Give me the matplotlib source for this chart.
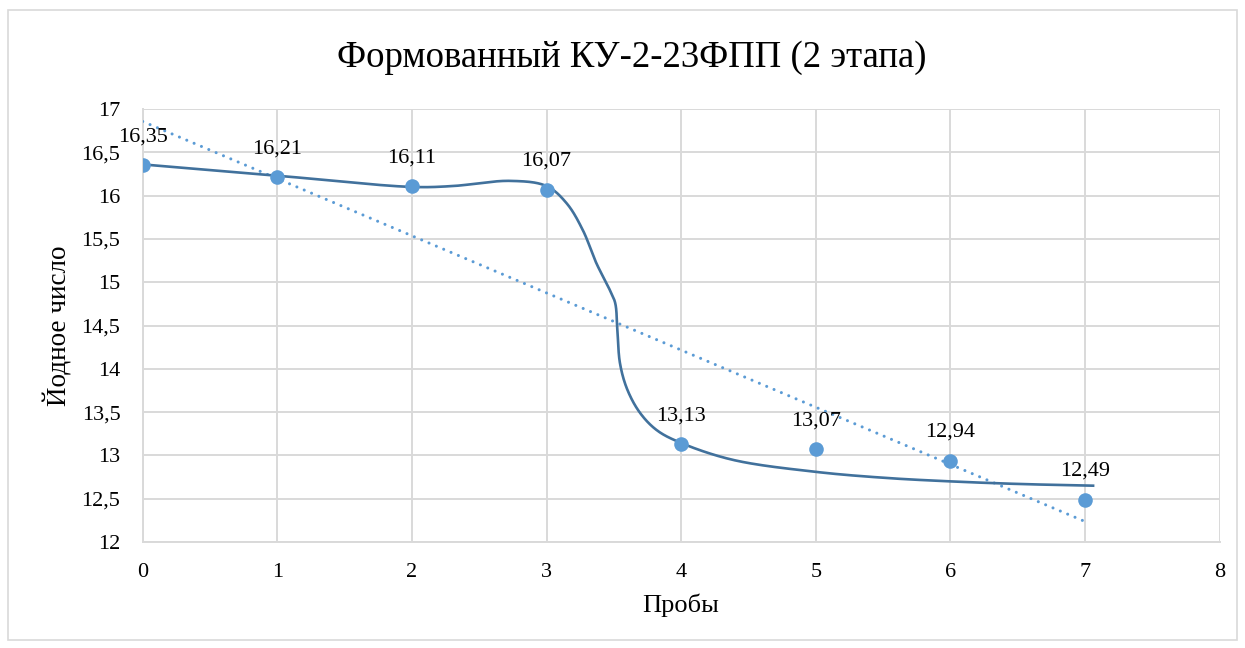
import numpy as np
import matplotlib
matplotlib.use("Agg")
import matplotlib.pyplot as plt
from matplotlib.patches import Rectangle

plt.rcParams['font.family'] = ['Liberation Serif', 'DejaVu Serif']

# Data
x_vals = [0, 1, 2, 3, 4, 5, 6, 7]
y_vals = [16.35, 16.21, 16.11, 16.07, 13.13, 13.07, 12.94, 12.49]
labels = ["16,35", "16,21", "16,11", "16,07", "13,13", "13,07", "12,94", "12,49"]

# Smoothed curve, anchor points
curve_x = [0, 1, 2, 2.3, 2.73, 3.0, 3.15, 3.27, 3.37, 3.47, 3.51, 3.526, 3.546,
           3.6, 3.695, 3.82, 3.99, 4.38, 5.0, 5.52, 6.0, 6.51, 7.07]
curve_y = [16.36, 16.23, 16.10, 16.11, 16.17, 16.11, 15.91, 15.60, 15.22, 14.91,
           14.76, 14.45, 14.06, 13.76, 13.49, 13.29, 13.15, 12.95, 12.81, 12.74,
           12.70, 12.67, 12.65]

title = "Формованный КУ-2-23ФПП (2 этапа)"
xlabel = "Пробы"
ylabel = "Йодное число"
xticks = [0, 1, 2, 3, 4, 5, 6, 7, 8]
yticks = [12, 12.5, 13, 13.5, 14, 14.5, 15, 15.5, 16, 16.5, 17]

W, H, DPI = 1245, 648, 100
fig = plt.figure(figsize=(W / DPI, H / DPI), dpi=DPI)
ax = fig.add_axes([142.7 / W, 1 - 542 / H, (1219.6 - 142.7) / W, (542 - 109) / H])
ax.set_xlim(0, 8)
ax.set_ylim(12, 17)

grid_c = "#D9D9D9"
pt_c = "#5B9BD5"
curve_c = "#41719C"


def smooth_render(xs, ys, n=30):
    """Centripetal Catmull-Rom rendering of a line through anchor points
    (like a spreadsheet 'smoothed line'), computed in display space."""
    P = ax.transData.transform(np.column_stack([xs, ys]))
    P = np.vstack([2 * P[0] - P[1], P, 2 * P[-1] - P[-2]])
    out = []
    for i in range(1, len(P) - 2):
        p0, p1, p2, p3 = P[i - 1], P[i], P[i + 1], P[i + 2]
        t0 = 0.0
        t1 = t0 + np.linalg.norm(p1 - p0) ** 0.5
        t2 = t1 + np.linalg.norm(p2 - p1) ** 0.5
        t3 = t2 + np.linalg.norm(p3 - p2) ** 0.5
        t = np.linspace(t1, t2, n)[:, None]
        a1 = (t1 - t) / (t1 - t0) * p0 + (t - t0) / (t1 - t0) * p1
        a2 = (t2 - t) / (t2 - t1) * p1 + (t - t1) / (t2 - t1) * p2
        a3 = (t3 - t) / (t3 - t2) * p2 + (t - t2) / (t3 - t2) * p3
        b1 = (t2 - t) / (t2 - t0) * a1 + (t - t0) / (t2 - t0) * a2
        b2 = (t3 - t) / (t3 - t1) * a2 + (t - t1) / (t3 - t1) * a3
        c = (t2 - t) / (t2 - t1) * b1 + (t - t1) / (t2 - t1) * b2
        out.append(c if i == 1 else c[1:])
    D = ax.transData.inverted().transform(np.vstack(out))
    return D[:, 0], D[:, 1]


# linear trend
coef = np.polyfit(x_vals, y_vals, 1)
tx = np.array([x_vals[0], x_vals[-1]])
ax.plot(tx, np.polyval(coef, tx), color=pt_c, lw=2.2, linestyle=(0, (0.01, 2.6)),
        dash_capstyle='round', zorder=3)

sx, sy = smooth_render(curve_x, curve_y)
ax.plot(sx, sy, color=curve_c, lw=1.9, zorder=4, solid_joinstyle='round',
        solid_capstyle='butt')
ax.plot(x_vals, y_vals, 'o', color=pt_c, markersize=10.5, markeredgewidth=0, zorder=5)

for x, y, s in zip(x_vals, y_vals, labels):
    ax.annotate(s, (x, y), xytext=(0, 17), textcoords='offset points',
                ha='center', va='baseline', fontsize=16, color='black', zorder=6)

ax.set_xticks(xticks)
ax.set_yticks(yticks)
ax.set_xticklabels([str(v) for v in xticks])
ax.set_yticklabels([("%g" % v).replace('.', ',') for v in yticks])
ax.tick_params(length=0, labelsize=16)
ax.tick_params(axis='x', pad=15)
ax.tick_params(axis='y', pad=16)
ax.grid(True, color=grid_c, lw=1.4)
ax.set_axisbelow(True)
for side in ['top', 'right']:
    ax.spines[side].set_visible(False)
for side in ['left', 'bottom']:
    ax.spines[side].set_color(grid_c)
    ax.spines[side].set_linewidth(1.4)

fig.text(632 / W, 1 - 58 / H, title, ha='center', va='center', fontsize=26.5)
fig.text(680.5 / W, 1 - 605 / H, xlabel, ha='center', va='center', fontsize=19)
fig.text(58 / W, 1 - 326 / H, ylabel, ha='center', va='center', fontsize=19.5, rotation=90)

fig.patches.append(Rectangle((8 / W, 1 - 640 / H), (1237 - 8) / W, (640 - 10) / H,
                             transform=fig.transFigure, fill=False,
                             edgecolor=grid_c, lw=1.2))

fig.savefig("out.png", dpi=DPI, facecolor='white')
